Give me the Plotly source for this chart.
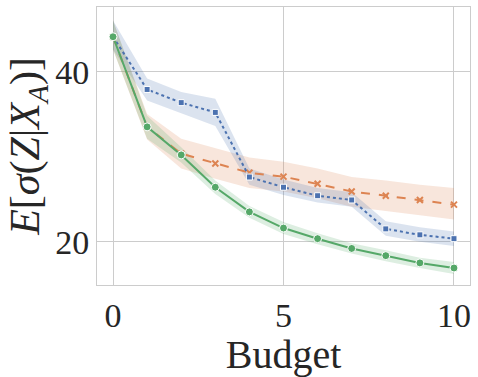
import plotly.graph_objects as go

budget = [0, 1, 2, 3, 4, 5, 6, 7, 8, 9, 10]

blue_mean = [44.1, 37.9, 36.35, 35.2, 27.6, 26.4, 25.4, 24.9, 21.5, 20.8, 20.35]
blue_lo = [42.6, 36.6, 35.1, 33.6, 26.7, 25.5, 24.6, 24.1, 20.7, 20.0, 19.5]
blue_hi = [46.0, 39.2, 37.6, 36.8, 28.6, 27.3, 26.3, 25.8, 22.4, 21.7, 21.2]

orange_mean = [44.1, 33.5, 30.35, 29.2, 28.1, 27.65, 26.8, 25.9, 25.4, 24.9, 24.35]
orange_lo = [42.6, 32.0, 28.6, 27.4, 26.3, 25.9, 25.1, 24.1, 23.6, 23.1, 22.6]
orange_hi = [46.0, 35.0, 32.1, 31.0, 29.9, 29.4, 28.6, 27.6, 27.2, 26.7, 26.3]

green_mean = [44.1, 33.5, 30.2, 26.4, 23.5, 21.6, 20.35, 19.2, 18.35, 17.5, 16.9]
green_lo = [42.6, 32.1, 29.3, 25.6, 22.8, 20.9, 19.7, 18.6, 17.7, 16.9, 16.2]
green_hi = [46.0, 34.8, 31.1, 27.2, 24.2, 22.3, 21.0, 19.8, 19.0, 18.1, 17.6]

series = [
    ("orange", orange_mean, orange_lo, orange_hi, "#DD8452", "rgba(221,132,82,0.2)", "dash", "x-thin", 6),
    ("blue", blue_mean, blue_lo, blue_hi, "#4C72B0", "rgba(76,114,176,0.2)", "dot", "square", 6),
    ("green", green_mean, green_lo, green_hi, "#55A868", "rgba(85,168,104,0.2)", "solid", "circle", 8),
]

fig = go.Figure()
for name, mean, lo, hi, col, fill, dash, sym, sz in series:
    fig.add_trace(go.Scatter(x=budget, y=hi, mode="lines", line=dict(width=0),
                             showlegend=False, hoverinfo="skip"))
    fig.add_trace(go.Scatter(x=budget, y=lo, mode="lines", line=dict(width=0),
                             fill="tonexty", fillcolor=fill, showlegend=False, hoverinfo="skip"))
for name, mean, lo, hi, col, fill, dash, sym, sz in series:
    marker = dict(symbol=sym, size=sz, color=col, line=dict(color="white", width=1))
    if sym == "x-thin":
        marker = dict(symbol=sym, size=sz, color=col, line=dict(color=col, width=2))
    fig.add_trace(go.Scatter(x=budget, y=mean, mode="lines+markers", name=name,
                             line=dict(color=col, width=2, dash=dash), marker=marker))

fig.update_layout(
    width=478, height=377,
    margin=dict(l=97, r=8, t=7, b=92),
    plot_bgcolor="white", paper_bgcolor="white",
    showlegend=False,
    font=dict(family="Liberation Serif", color="#262626"),
)
fig.update_xaxes(
    range=[-0.47, 10.47], tickvals=[0, 5, 10], tickfont=dict(size=34),
    title=dict(text="Budget", font=dict(size=40), standoff=0),
    showgrid=True, gridcolor="#cccccc", gridwidth=1, automargin=False,
    showline=True, linecolor="#cccccc", mirror=True, zeroline=False, ticks="",
)
fig.update_yaxes(
    range=[14.9, 47.6], tickvals=[20, 40], tickfont=dict(size=34),
    title=dict(text="<i>E</i>[<i>σ</i>(<i>Z</i>|<i>X</i><sub><i>A</i></sub>)]", font=dict(size=42), standoff=2),
    showgrid=True, gridcolor="#cccccc", gridwidth=1, automargin=False,
    showline=True, linecolor="#cccccc", mirror=True, zeroline=False, ticks="",
)

fig.write_html("out.html", config={"displayModeBar": False},
               post_script="document.body.style.margin='0';")
